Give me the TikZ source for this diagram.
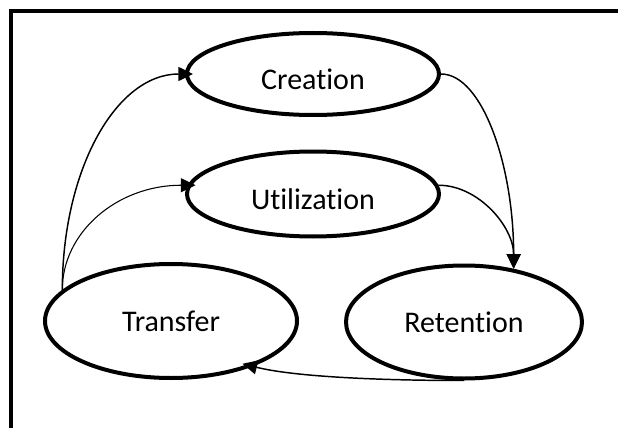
\documentclass[tikz,border=0pt]{standalone}
\usepackage{fontspec}
\newfontfamily\stagefont{Carlito}[Ligatures=NoCommon]
\usepackage{tikz}
\usetikzlibrary{positioning}
\usetikzlibrary{shapes.geometric,arrows.meta}

\tikzset{
	stage/.style={draw, ellipse, line width=3pt, font={\stagefont\fontsize{22.5}{27}\selectfont}},
	uptext/.style={text height=23.5pt, text depth=0pt},
	link/.style={line width=1.1pt, -{Triangle[length=11pt,width=10.5pt]}},
	frame/.style={line width=3pt},
}

\begin{document}
\begin{tikzpicture}[x=0.75pt, y=-0.75pt]
	
	% ------------------------------------------------
	% Ensure the dimensions of graphic are appropriate
	\useasboundingbox (0,0) rectangle (618,428);
	
	% ------------------------------------------------
	% Relevant coordinates
	\coordinate (CreationPos) at (313,74);
	
	\path (CreationPos) +(0,120)    coordinate (UtilizationPos);
	\path (CreationPos) +(-142,247) coordinate (TransferPos);
	\path (CreationPos) +(151,248)  coordinate (RetentionPos);
	
	% ----------------
	% Frame
	\draw[frame] (10.5,428) |- (618,11.3);
	
	% ----------------
	% Stages
	\node[stage, uptext, minimum width=189pt, minimum height=61.5pt] (Creation) at (CreationPos) {Creation};
	\node[stage, uptext, minimum width=189pt, minimum height=63.75pt] (Utilization) at (UtilizationPos) {Utilization};
	\node[stage, minimum width=189pt, minimum height=85.5pt] (Transfer) at (TransferPos) {Transfer};
	\node[stage, minimum width=177pt, minimum height=84.75pt] (Retention) at (RetentionPos) {Retention};
	
	%%%%%%%%%%%%%%%%%%%%%%%%%%%%%%%%%%%%%%%%%
	%Connectors
	\draw[link, shorten >=-6pt] (Transfer.164) .. controls +(0,-120) and +(-69,0) .. (Creation.west);
	\draw[link, line width=0.8pt, shorten >=-6pt] (Transfer.164) .. controls +(0,-58) and +(-70,0) .. (Utilization.176);
	
	\draw[link] (Creation.east) .. controls +(41,0) and +(0,-104) .. (Retention.47);
	\draw[link] (Utilization.4) .. controls +(40,0) and +(0,-42) .. (Retention.47);
	
	\draw[link, shorten >=-8pt] (Retention.south) .. controls +(-90,0) and +(40,10) .. (Transfer.-29);
	
\end{tikzpicture}
\end{document}
